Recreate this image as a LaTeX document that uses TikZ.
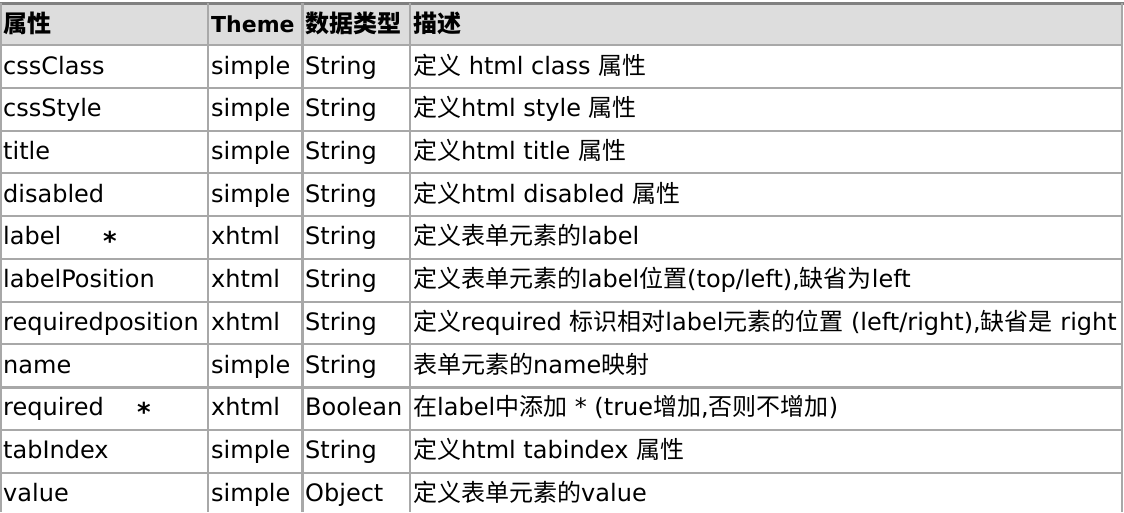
\documentclass[tikz,border=0pt]{standalone}
\usepackage{fontspec}
\setmainfont{DejaVu Sans}
\newfontfamily\cjk{Noto Sans CJK SC}
\newcommand{\zh}[1]{{\cjk #1}}
\usetikzlibrary{positioning}
\definecolor{gridgray}{HTML}{A8A8A8}
\definecolor{headgray}{HTML}{DDDDDD}
\tikzset{
  cell/.style={anchor=base west, inner sep=0pt, font=\fontsize{24}{28}\selectfont},
  head/.style={cell, font=\fontsize{22}{26}\selectfont\bfseries},
  headzh/.style={cell, font=\fontsize{24}{28}\selectfont\bfseries},
  star/.style={anchor=base, inner sep=0pt, font=\fontsize{26}{28}\selectfont\bfseries},
  rule/.style={draw=gridgray, line width=2pt}
}
\begin{document}
\begin{tikzpicture}[x=1pt, y=-1pt]
\useasboundingbox (0,0) rectangle (1124,512);
\fill[white] (0,0) rectangle (1124,512);
\fill[headgray] (0,4) rectangle (1122,45);

% grid
\draw[draw=gray, line width=3pt] (0,3) -- (1124,3);
\foreach \y in {45,87.75,130.5,173.25,216,258.75,301.5,344.25,429.75,472.5}
  \draw[rule] (0,\y) -- (1122,\y);
\draw[rule, line width=3pt] (0,387) -- (1122,387);
\foreach \x in {1,208,410,1122}
  \draw[rule] (\x,3) -- (\x,512);
\draw[rule, line width=3pt] (302,3) -- (302,512);

% header
\node[headzh] (hprop)  at (3,32)   {\zh{属性}};
\node[head] (htheme) at (211,32) {Theme};
\node[headzh] (htype)  at (305,32) {\zh{数据类型}};
\node[headzh] (hdesc)  at (413,32) {\zh{描述}};

% rows
\node[cell] (prop1) at (3,74)   {cssClass};
\node[cell] (prop2) at (3,116.6) {cssStyle};
\node[cell] (prop3) at (3,159.4) {title};
\node[cell] (prop4) at (3,202.1) {disabled};
\node[cell] (prop5) at (3,244.9) {label};
\node[cell] (prop6) at (3,287.6) {labelPosition};
\node[cell] (prop7) at (3,330.4) {requiredposition};
\node[cell] (prop8) at (3,373.1) {name};
\node[cell] (prop9) at (3,415.9) {required};
\node[cell] (prop10) at (3,458.6) {tabIndex};
\node[cell] (prop11) at (3,501.4) {value};

\node[star] (star5) at (110,250.9) {*};
\node[star] (star9) at (144,421.9) {*};

\node[cell] (theme1) at (211,74)   {simple};
\node[cell] (theme2) at (211,116.6) {simple};
\node[cell] (theme3) at (211,159.4) {simple};
\node[cell] (theme4) at (211,202.1) {simple};
\node[cell] (theme5) at (211,244.9) {xhtml};
\node[cell] (theme6) at (211,287.6) {xhtml};
\node[cell] (theme7) at (211,330.4) {xhtml};
\node[cell] (theme8) at (211,373.1) {simple};
\node[cell] (theme9) at (211,415.9) {xhtml};
\node[cell] (theme10) at (211,458.6) {simple};
\node[cell] (theme11) at (211,501.4) {simple};

\node[cell] (type1) at (305,74)   {String};
\node[cell] (type2) at (305,116.6) {String};
\node[cell] (type3) at (305,159.4) {String};
\node[cell] (type4) at (305,202.1) {String};
\node[cell] (type5) at (305,244.9) {String};
\node[cell] (type6) at (305,287.6) {String};
\node[cell] (type7) at (305,330.4) {String};
\node[cell] (type8) at (305,373.1) {String};
\node[cell] (type9) at (305,415.9) {Boolean};
\node[cell] (type10) at (305,458.6) {String};
\node[cell] (type11) at (305,501.4) {Object};

\node[cell] (desc1) at (413,74)   {\zh{定义} html class \zh{属性}};
\node[cell] (desc2) at (413,116.6) {\zh{定义}html style \zh{属性}};
\node[cell] (desc3) at (413,159.4) {\zh{定义}html title \zh{属性}};
\node[cell] (desc4) at (413,202.1) {\zh{定义}html disabled \zh{属性}};
\node[cell] (desc5) at (413,244.9) {\zh{定义表单元素的}label};
\node[cell] (desc6) at (413,287.6) {\zh{定义表单元素的}label\zh{位置}(top/left),\zh{缺省为}left};
\node[cell] (desc7) at (413,330.4) {\zh{定义}required \zh{标识相对}label\zh{元素的位置} (left/right),\zh{缺省是} right};
\node[cell] (desc8) at (413,373.1) {\zh{表单元素的}name\zh{映射}};
\node[cell] (desc9) at (413,415.9) {\zh{在}label\zh{中添加} * (true\zh{增加},\zh{否则不增加})};
\node[cell] (desc10) at (413,458.6) {\zh{定义}html tabindex \zh{属性}};
\node[cell] (desc11) at (413,501.4) {\zh{定义表单元素的}value};
\end{tikzpicture}
\end{document}
